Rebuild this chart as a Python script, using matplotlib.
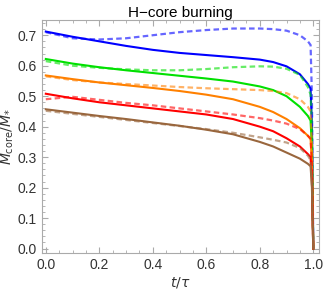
import matplotlib
matplotlib.use("Agg")
import matplotlib.pyplot as plt
from matplotlib.ticker import MultipleLocator

plt.rcParams['font.family'] = ['Liberation Sans', 'DejaVu Sans']

t = [0.0, 0.1, 0.2, 0.3, 0.4, 0.5, 0.6, 0.7, 0.8, 0.85, 0.9, 0.95, 0.98, 0.99, 0.995, 1.0]

blue = [0.712, 0.695, 0.680, 0.665, 0.652, 0.642, 0.635, 0.628, 0.620, 0.612, 0.598, 0.572, 0.540, 0.525, 0.40, 0.0]
blue_d = [0.710, 0.690, 0.686, 0.690, 0.700, 0.710, 0.717, 0.722, 0.722, 0.720, 0.715, 0.700, 0.680, 0.668, 0.50, 0.0]
green = [0.622, 0.607, 0.595, 0.585, 0.576, 0.567, 0.558, 0.548, 0.532, 0.520, 0.500, 0.465, 0.435, 0.420, 0.33, 0.0]
green_d = [0.615, 0.600, 0.593, 0.588, 0.585, 0.585, 0.589, 0.595, 0.598, 0.597, 0.590, 0.570, 0.530, 0.505, 0.40, 0.0]
orange = [0.568, 0.556, 0.545, 0.536, 0.527, 0.517, 0.505, 0.490, 0.465, 0.448, 0.425, 0.395, 0.370, 0.360, 0.28, 0.0]
orange_d = [0.565, 0.553, 0.545, 0.540, 0.535, 0.530, 0.526, 0.523, 0.520, 0.517, 0.510, 0.490, 0.465, 0.450, 0.35, 0.0]
red = [0.508, 0.493, 0.480, 0.470, 0.460, 0.450, 0.440, 0.425, 0.400, 0.385, 0.362, 0.335, 0.310, 0.300, 0.22, 0.0]
red_d = [0.490, 0.498, 0.488, 0.478, 0.470, 0.460, 0.450, 0.440, 0.428, 0.420, 0.410, 0.392, 0.370, 0.360, 0.28, 0.0]
brown = [0.457, 0.446, 0.435, 0.425, 0.414, 0.403, 0.390, 0.375, 0.350, 0.335, 0.315, 0.295, 0.278, 0.270, 0.20, 0.0]
brown_d = [0.452, 0.442, 0.432, 0.422, 0.412, 0.402, 0.392, 0.380, 0.365, 0.357, 0.348, 0.330, 0.305, 0.290, 0.22, 0.0]

series = [
    (blue, blue_d, '#0000ff'),
    (green, green_d, '#00e000'),
    (orange, orange_d, '#ff8000'),
    (red, red_d, '#ff0000'),
    (brown, brown_d, '#99663d'),
]

fig = plt.figure(figsize=(3.24, 2.94), dpi=100)
ax = fig.add_axes([0.129, 0.139, 0.856, 0.793])

for solid, dashed, c in series:
    ax.plot(t, dashed, color=c, lw=1.6, ls=(0, (2.5, 1.5)), alpha=0.6)
    ax.plot(t, solid, color=c, lw=1.5)

ax.set_xlim(-0.015, 1.022)
ax.set_ylim(-0.015, 0.75)
ax.xaxis.set_major_locator(MultipleLocator(0.2))
ax.xaxis.set_minor_locator(MultipleLocator(0.05))
ax.yaxis.set_major_locator(MultipleLocator(0.1))
ax.yaxis.set_minor_locator(MultipleLocator(0.02))
ax.xaxis.set_major_formatter(matplotlib.ticker.FormatStrFormatter('%.1f'))
ax.yaxis.set_major_formatter(matplotlib.ticker.FormatStrFormatter('%.1f'))

for s in ax.spines.values():
    s.set_color('#aaaaaa')
ax.tick_params(which='both', direction='in', color='#aaaaaa', top=True, right=True, labelsize=10, labelcolor='#333333')
ax.tick_params(which='major', length=4)
ax.tick_params(which='minor', length=2)

ax.set_title('H\u2212core burning', fontsize=11, pad=2)
ax.set_xlabel(r'$t/\tau$', fontsize=10, color='#333333', labelpad=2)
ax.set_ylabel(r'$M_{\rm core}/M_{*}$', fontsize=10, color='#333333', labelpad=1)

fig.savefig('out.png', dpi=100)
